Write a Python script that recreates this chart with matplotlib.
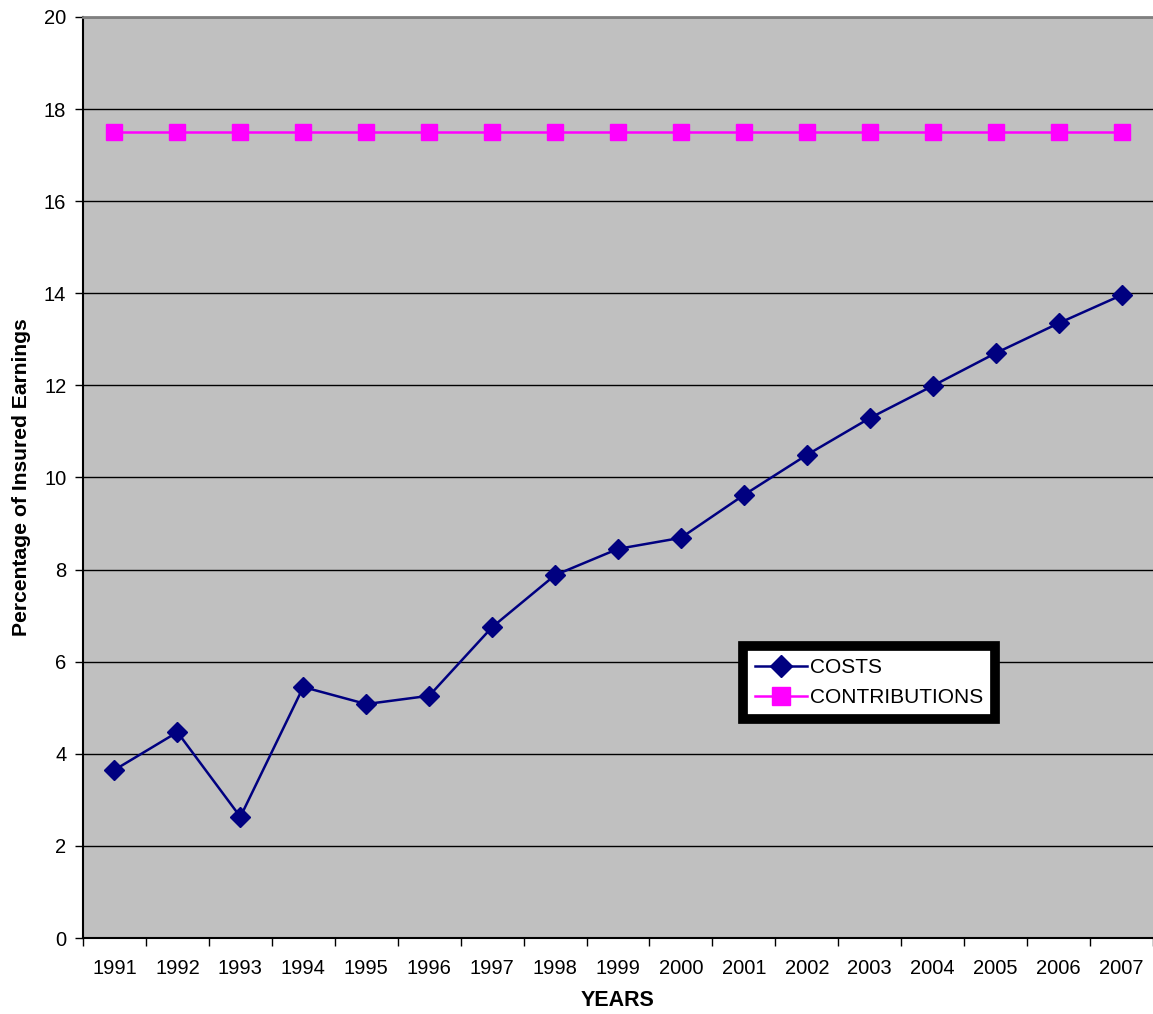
import matplotlib
matplotlib.use("Agg")
import matplotlib.pyplot as plt
import numpy as np

plt.rcParams['font.family'] = ['Liberation Sans', 'DejaVu Sans']

years = ['1991', '1992', '1993', '1994', '1995', '1996', '1997', '1998', '1999',
         '2000', '2001', '2002', '2003', '2004', '2005', '2006', '2007']
costs = [3.65, 4.47, 2.63, 5.45, 5.08, 5.26, 6.75, 7.88, 8.45,
         8.69, 9.62, 10.49, 11.29, 11.99, 12.70, 13.35, 13.96]
contributions = [17.5] * 17
y_ticks = [0, 2, 4, 6, 8, 10, 12, 14, 16, 18, 20]

fig = plt.figure(figsize=(11.53, 10.14), dpi=100)
ax = fig.add_axes([83 / 1153, 76 / 1014, 1 - 83 / 1153, (938 - 17) / 1014])
ax.set_facecolor('#c0c0c0')

x = np.arange(len(years))
ax.plot(x, costs, color='#000080', marker='D', markersize=10, linewidth=1.8,
        label='COSTS', clip_on=False, zorder=3)
ax.plot(x, contributions, color='#ff00ff', marker='s', markersize=11.5, linewidth=1.8,
        label='CONTRIBUTIONS', clip_on=False, zorder=3)

ax.set_xlim(-0.5, len(years) - 0.5)
ax.set_ylim(0, 20)
ax.set_yticks(y_ticks)
ax.set_yticklabels([str(v) for v in y_ticks], fontsize=14.5)
ax.yaxis.grid(True, color='black', linewidth=1)
ax.set_axisbelow(True)

ax.set_xticks(x)
ax.set_xticklabels(years, fontsize=14.5)
ax.set_xticks(np.arange(-0.5, len(years)), minor=True)
ax.tick_params(axis='x', which='major', length=0, pad=15)
ax.tick_params(axis='x', which='minor', length=6, width=1, color='black')
ax.tick_params(axis='y', length=6, width=1, color='black', pad=6)

for side in ['left', 'bottom']:
    ax.spines[side].set_color('black')
    ax.spines[side].set_linewidth(1.5)
ax.spines['top'].set_color('#808080')
ax.spines['top'].set_linewidth(2)
ax.spines['right'].set_visible(False)

ax.set_xlabel('YEARS', fontsize=15.5, fontweight='bold', labelpad=9)
ax.set_ylabel('Percentage of Insured Earnings', fontsize=15.2, fontweight='bold', labelpad=9)

leg = ax.legend(loc='lower left', bbox_to_anchor=(0.617, 0.238), fontsize=15,
                fancybox=False, framealpha=1, edgecolor='black',
                handlelength=2.5, handletextpad=0.15, borderpad=0.55,
                labelspacing=0.55, borderaxespad=0, markerscale=1.15)
leg.get_frame().set_linewidth(7)
leg.get_frame().set_facecolor('white')

fig.savefig('out.png', dpi=100)
